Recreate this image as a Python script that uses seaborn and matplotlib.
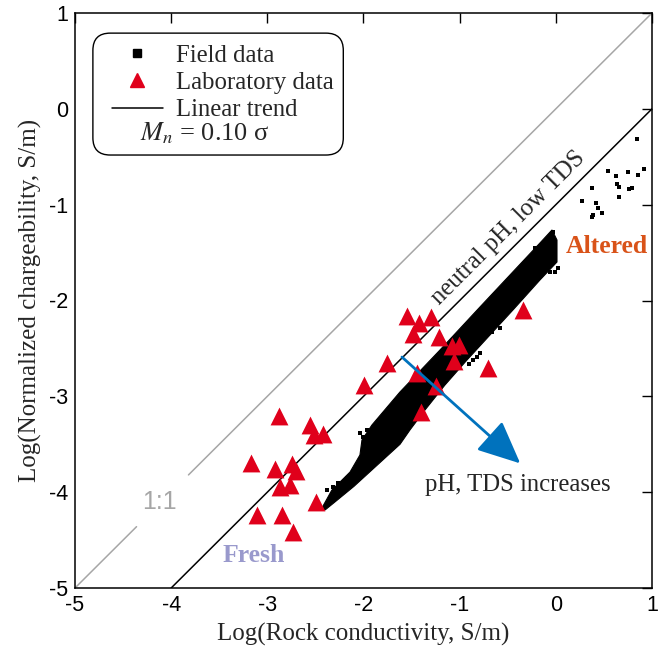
import numpy as np
import pandas as pd
import matplotlib
matplotlib.use("Agg")
import matplotlib.pyplot as plt
from matplotlib.lines import Line2D
from matplotlib.patches import FancyBboxPatch
import seaborn as sns

# Laboratory samples: log10 rock conductivity and log10 normalized chargeability (S/m)
lab_log_sigma = [-1.548, -1.423, -1.298, -1.485, -1.215, -1.080, -1.007, -1.059,
                 -0.342, -1.756, -1.444, -0.706, -1.995, -1.246, -1.402, -2.879,
                 -2.556, -2.515, -2.421, -3.170, -2.920, -2.744, -2.702, -2.868,
                 -2.764, -2.494, -3.107, -2.848, -2.733]
lab_log_mn = [-2.162, -2.235, -2.172, -2.350, -2.381, -2.475, -2.464, -2.631,
              -2.099, -2.652, -2.757, -2.704, -2.882, -2.892, -3.164, -3.205,
              -3.299, -3.404, -3.393, -3.696, -3.758, -3.706, -3.779, -3.946,
              -3.925, -4.103, -4.238, -4.238, -4.416]

# Field data: outline of the dense cloud of field measurements
field_cloud_x = [-2.432, -2.330, -2.140, -2.037, -2.016, -1.912, -1.621, -1.205,
                 -0.789, -0.477, -0.165, -0.040, 0.012, 0.012, -0.165, -0.446,
                 -0.685, -0.924, -1.153, -1.361, -1.517, -1.620, -1.860, -2.100,
                 -2.310, -2.400]
field_cloud_y = [-4.165, -3.980, -3.790, -3.612, -3.456, -3.299, -2.955, -2.517,
                 -2.068, -1.734, -1.400, -1.264, -1.369, -1.598, -1.786, -2.099,
                 -2.360, -2.621, -2.882, -3.143, -3.351, -3.500, -3.720, -3.940,
                 -4.113, -4.186]

# Field data: isolated measurements around the cloud
field_pts_x = [0.844, 0.542, 0.626, 0.750, 0.854, 0.917, 0.376, 0.636, 0.657,
               0.761, 0.792, 0.657, 0.272, 0.418, 0.438, 0.480, 0.386, 0.376,
               -0.030, 0.022, -0.009, -0.061, -0.217, -0.581, -0.664, -0.622,
               -0.789, -0.820, -0.861, -0.903, -2.380, -2.317, -2.265, -2.172,
               -2.109, -2.036, -1.964, -2.005]
field_pts_y = [-0.315, -0.649, -0.701, -0.659, -0.690, -0.628, -0.826, -0.784,
               -0.816, -0.837, -0.826, -0.920, -0.962, -0.983, -1.035, -1.087,
               -1.108, -1.129, -1.285, -1.661, -1.703, -1.703, -1.452, -2.287,
               -2.329, -2.224, -2.548, -2.590, -2.621, -2.663, -3.978, -3.946,
               -3.905, -3.852, -3.790, -3.383, -3.351, -3.425]

# Linear trend Mn = 0.10 sigma
trend_ratio = 0.10
trend_x = np.array([-4.0, 1.0])
trend_y = np.log10(trend_ratio) + trend_x

# 1:1 reference line, interrupted around its label
one_low_x = [-5.0, -4.36]
one_high_x = [-3.82, 1.0]

# Direction of increasing pH and TDS
arrow_start = (-1.60, -2.59)
arrow_end = (-0.37, -3.70)

axis_ticks = [-5, -4, -3, -2, -1, 0, 1]

sns.set_style("white")
plt.rcParams["font.family"] = ["Liberation Serif", "DejaVu Serif"]
plt.rcParams["mathtext.fontset"] = "stix"
plt.rcParams["axes.unicode_minus"] = False

serif_size = 17.8
red = "#E0001B"
sans = ["Liberation Sans", "DejaVu Sans"]

fig = plt.figure(figsize=(6.6, 6.48), dpi=100)
ax = fig.add_axes([75 / 660, 1 - 588 / 648, 577 / 660, 575 / 648])

lab = pd.DataFrame({"sigma": lab_log_sigma, "mn": lab_log_mn})
field = pd.DataFrame({"sigma": field_pts_x, "mn": field_pts_y})

# 1:1 line
sns.lineplot(x=one_low_x, y=one_low_x, color="#A6A6A6", lw=1.1, ax=ax,
             estimator=None, zorder=1)
sns.lineplot(x=one_high_x, y=one_high_x, color="#A6A6A6", lw=1.1, ax=ax,
             estimator=None, zorder=1)
ax.text(-4.12, -4.10, "1:1", color="#A6A6A6", fontsize=18, family=sans,
        ha="center", va="center")

# linear trend
sns.lineplot(x=trend_x, y=trend_y, color="black", lw=1.1, ax=ax,
             estimator=None, zorder=2)

# field data
ax.fill(field_cloud_x, field_cloud_y, color="black", lw=0.8, zorder=3)
sns.scatterplot(data=field, x="sigma", y="mn", marker="s", s=6, color="black",
                linewidth=0, ax=ax, zorder=3)

# laboratory data
sns.scatterplot(data=lab, x="sigma", y="mn", marker="^", s=165, color=red,
                linewidth=0, ax=ax, zorder=4)

# arrow
ax.annotate("", xy=arrow_end, xytext=arrow_start, zorder=5,
            arrowprops=dict(arrowstyle="-|>,head_length=1.1,head_width=0.5",
                            mutation_scale=24, color="#0072BD", lw=2.0,
                            shrinkA=0, shrinkB=0))
ax.text(-0.40, -3.925, "pH, TDS increases", fontsize=serif_size,
        ha="center", va="center")

ax.text(-0.49, -1.24, "neutral pH, low TDS", fontsize=serif_size,
        rotation=45, rotation_mode="anchor", ha="center", va="center")
ax.text(0.53, -1.44, "Altered", fontsize=18.5, fontweight="bold",
        color="#D95319", ha="center", va="center")
ax.text(-3.14, -4.656, "Fresh", fontsize=18.5, fontweight="bold",
        color="#9999CC", ha="center", va="center")

ax.set_xlim(-5, 1)
ax.set_ylim(-5, 1)
ax.set_xticks(axis_ticks)
ax.set_yticks(axis_ticks)
ax.set_xticklabels([str(t) for t in axis_ticks], family=sans, fontsize=15.5)
ax.set_yticklabels([str(t) for t in axis_ticks], family=sans, fontsize=15.5)
ax.tick_params(direction="in", length=7, width=1, top=True, right=True,
               pad=5, colors="black")
for sp in ax.spines.values():
    sp.set_linewidth(1.1)
    sp.set_color("black")
ax.set_xlabel("Log(Rock conductivity, S/m)", fontsize=18, labelpad=5)
ax.set_ylabel("Log(Normalized chargeability, S/m)", fontsize=18, labelpad=5)

# legend
box = FancyBboxPatch((0.031, 0.753), 0.434, 0.212,
                     boxstyle="round,pad=0,rounding_size=0.03",
                     transform=ax.transAxes, facecolor="white",
                     edgecolor="black", lw=1.0, zorder=6)
ax.add_patch(box)
handles = [
    Line2D([], [], ls="none", marker="s", ms=6, color="black"),
    Line2D([], [], ls="none", marker="^", ms=10, color=red),
    Line2D([], [], color="black", lw=1.1),
]
leg = ax.legend(handles, ["Field data", "Laboratory data", "Linear trend"],
                loc="center left", bbox_to_anchor=(102 / 660, 1 - 83 / 648),
                bbox_transform=fig.transFigure, frameon=False,
                fontsize=serif_size, handlelength=2.05, handletextpad=0.53,
                labelspacing=0.2, borderaxespad=0)
leg.set_zorder(7)
ax.text(0.1127, 0.791, r"$M_n$ = 0.10 σ", transform=ax.transAxes,
        fontsize=19, ha="left", va="center", zorder=8)

fig.savefig("out.png", dpi=100)
